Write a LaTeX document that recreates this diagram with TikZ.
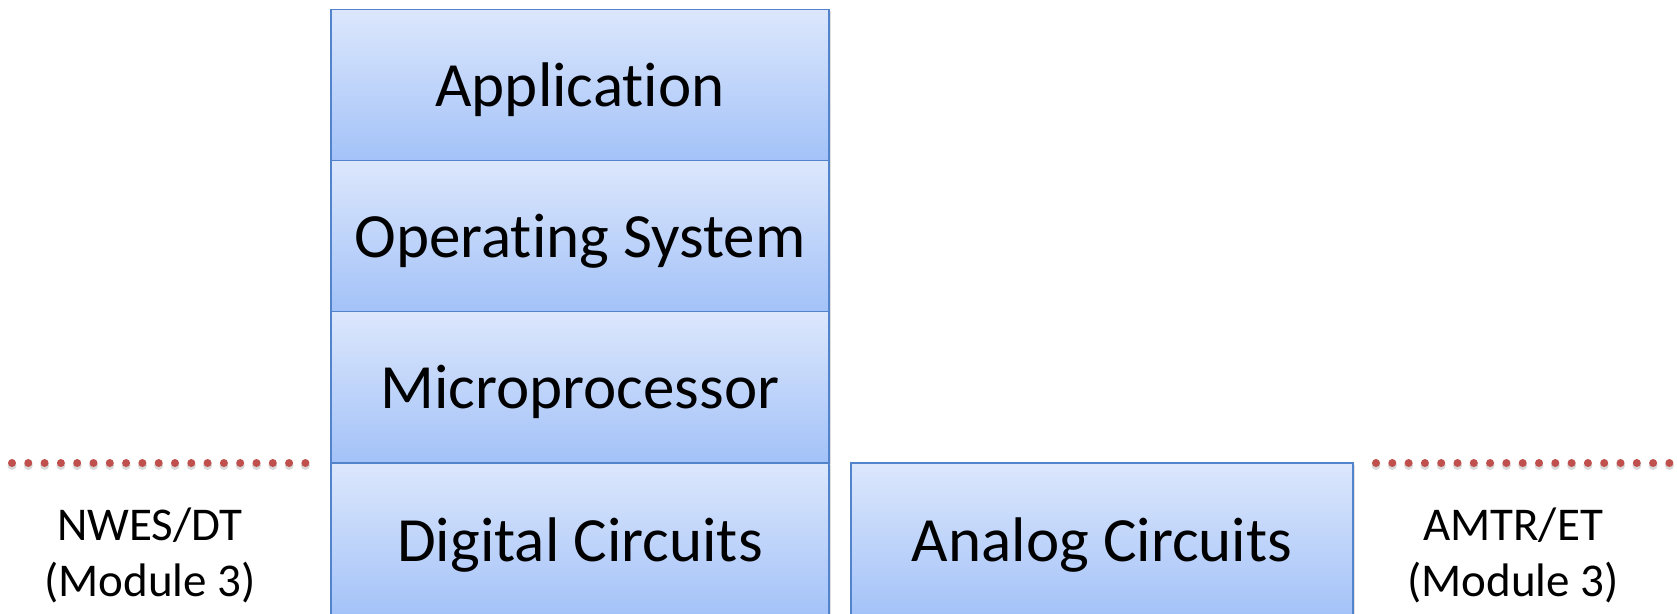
\documentclass[tikz,border=0pt]{standalone}
\usepackage{fontspec}
\setmainfont[Ligatures=NoCommon]{Carlito}
\usetikzlibrary{shadows}
\definecolor{boxtop}{HTML}{DCE7FC}
\definecolor{boxbot}{HTML}{A3C2F8}
\definecolor{boxline}{HTML}{5284CC}
\definecolor{dotred}{HTML}{C0504D}
\begin{document}
\begin{tikzpicture}[x=1pt,y=-1pt,
  layer/.style={draw=boxline, line width=1.5pt, top color=boxtop, bottom color=boxbot,
    minimum width=498pt, inner sep=0pt, text depth=0pt, font=\fontsize{63}{72}\selectfont,
    drop shadow={opacity=0.25,shadow xshift=1.5pt,shadow yshift=-1.5pt}},
  side/.style={align=center, font=\fontsize{47}{56}\selectfont, inner sep=0pt},
  dotline/.style={dotred, line width=8pt, line cap=round, dash pattern=on 0pt off 16.3pt},
  dotshade/.style={black, opacity=0.15, line width=9pt, line cap=round, dash pattern=on 0pt off 16.3pt}]
\useasboundingbox[fill=white] (0,0) rectangle (1677,613);
\node[layer, minimum height=151pt] (app) at (580,85) {Application};
\node[layer, minimum height=151pt] (os) at (580,236) {Operating System};
\node[layer, minimum height=151pt] (mp) at (580,387) {Microprocessor};
\node[layer, minimum height=154pt] (dc) at (580,540) {Digital Circuits};
\node[layer, minimum height=154pt, minimum width=502pt] (ac) at (1102,540) {Analog Circuits};
\node[side] (nw) at (150,555) {NWES/DT\\(Module 3)};
\node[side] (am) at (1513,555) {AMTR/ET\\(Module 3)};
\coordinate (l1) at (12,463);
\coordinate (l2) at (306,463);
\coordinate (r1) at (1376,463);
\coordinate (r2) at (1680,463);
\draw[dotshade] ([yshift=-2.5pt]l1) -- ([yshift=-2.5pt]l2);
\draw[dotshade] ([yshift=-2.5pt]r1) -- ([yshift=-2.5pt]r2);
\draw[dotline] (l1) -- (l2);
\draw[dotline] (r1) -- (r2);
\end{tikzpicture}
\end{document}
